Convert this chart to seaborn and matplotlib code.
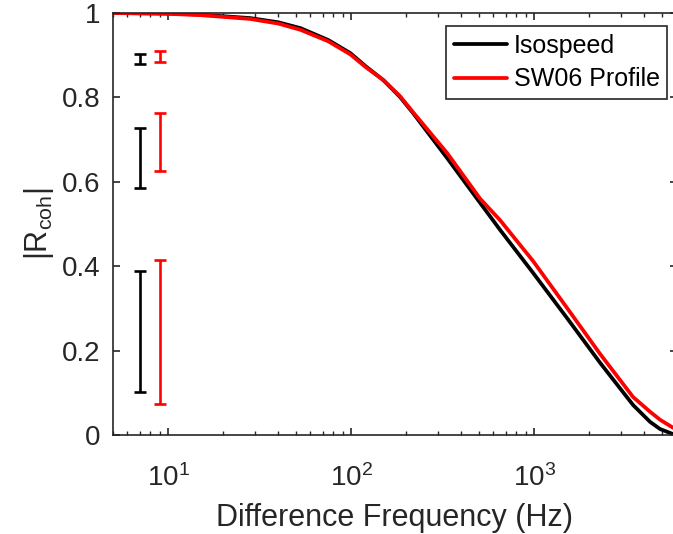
import numpy as np
import pandas as pd
import matplotlib
matplotlib.use("Agg")
import matplotlib.pyplot as plt
import matplotlib.ticker as mticker
import seaborn as sns

# ---------------- data ----------------
freq = [5, 10, 15, 28, 40, 53, 75, 99, 120, 150, 185, 218, 335, 507, 652,
        988, 1514, 2295, 3475, 4305, 4885, 5755]
r_isospeed = [1.000, 0.999, 0.996, 0.988, 0.978, 0.964, 0.936, 0.905, 0.874,
              0.841, 0.801, 0.763, 0.656, 0.550, 0.486, 0.384, 0.277, 0.171,
              0.071, 0.031, 0.014, 0.002]
r_sw06 = [1.000, 0.998, 0.995, 0.986, 0.975, 0.960, 0.933, 0.902, 0.872,
          0.841, 0.803, 0.765, 0.668, 0.560, 0.509, 0.412, 0.301, 0.192,
          0.090, 0.055, 0.036, 0.017]
series_names = ["Isospeed", "SW06 Profile"]
series_colors = ["#000000", "#ff0000"]

eb_freq = [7.0, 9.0]
iso_low = [0.879, 0.585, 0.103]
iso_high = [0.904, 0.727, 0.389]
sw_low = [0.885, 0.626, 0.073]
sw_high = [0.910, 0.764, 0.415]

y_ticks = [0, 0.2, 0.4, 0.6, 0.8, 1.0]
y_ticklabels = ["0", "0.2", "0.4", "0.6", "0.8", "1"]
x_ticks = [10, 100, 1000]
x_label = "Difference Frequency (Hz)"
y_label = r"$|\mathrm{R}_{\mathrm{coh}}|$"

# ---------------- style ----------------
sns.set_style("ticks")
plt.rcParams["font.family"] = ["Liberation Sans", "DejaVu Sans"]
plt.rcParams["mathtext.fontset"] = "custom"
plt.rcParams["mathtext.rm"] = "Liberation Sans"
plt.rcParams["mathtext.it"] = "Liberation Sans:italic"
plt.rcParams["mathtext.bf"] = "Liberation Sans:bold"
txt = "#262626"

df = pd.DataFrame({
    "freq": freq + freq,
    "R": r_isospeed + r_sw06,
    "series": [series_names[0]] * len(freq) + [series_names[1]] * len(freq),
})

fig = plt.figure(figsize=(6.73, 5.34), dpi=100)
ax = fig.add_axes([113 / 673, 99 / 534, 563.5 / 673, 422 / 534])

sns.lineplot(data=df, x="freq", y="R", hue="series",
             palette=dict(zip(series_names, series_colors)),
             estimator=None, sort=False, linewidth=2.7, ax=ax, legend=True)

for f, lo, hi, c in [(eb_freq[0], iso_low, iso_high, series_colors[0]),
                     (eb_freq[1], sw_low, sw_high, series_colors[1])]:
    lo = np.array(lo); hi = np.array(hi)
    ax.errorbar([f] * len(lo), (lo + hi) / 2, yerr=(hi - lo) / 2, fmt="none",
                ecolor=c, elinewidth=1.9, capsize=4, capthick=1.9, zorder=3)

ax.set_xscale("log")
ax.set_xlim(5, 6000)
ax.set_ylim(0, 1)
ax.set_xticks(x_ticks)
ax.xaxis.set_minor_locator(mticker.LogLocator(base=10, subs=np.arange(2, 10)))
ax.xaxis.set_minor_formatter(mticker.NullFormatter())
ax.set_yticks(y_ticks)
ax.set_yticklabels(y_ticklabels)

for s in ax.spines.values():
    s.set_visible(True)
    s.set_color(txt)
    s.set_linewidth(1.2)

ax.tick_params(axis="both", which="major", direction="in", length=5, width=1.2,
               color=txt, labelcolor=txt, labelsize=20, top=True, right=True)
ax.tick_params(axis="x", which="minor", direction="in", length=3, width=1.0,
               color=txt, top=True)
ax.tick_params(axis="x", which="major", pad=21)
ax.tick_params(axis="y", which="major", pad=9)

ax.set_xlabel(x_label, fontsize=22, color=txt, labelpad=8)
ax.set_ylabel(y_label, fontsize=22, color=txt, labelpad=4)

handles, labels = ax.get_legend_handles_labels()
leg = ax.legend(handles, labels, loc="upper right",
                bbox_to_anchor=(667 / 673, (534 - 26) / 534),
                bbox_transform=fig.transFigure, borderaxespad=0,
                fontsize=18, frameon=True, fancybox=False, framealpha=1,
                handlelength=2.15, handletextpad=0.25, borderpad=0.3,
                labelspacing=0.4)
leg.get_frame().set_edgecolor(txt)
leg.get_frame().set_linewidth(1.2)
for h in leg.get_lines():
    h.set_linewidth(2.7)
for t in leg.get_texts():
    t.set_color("#000000")

fig.savefig("out.png", dpi=100)
